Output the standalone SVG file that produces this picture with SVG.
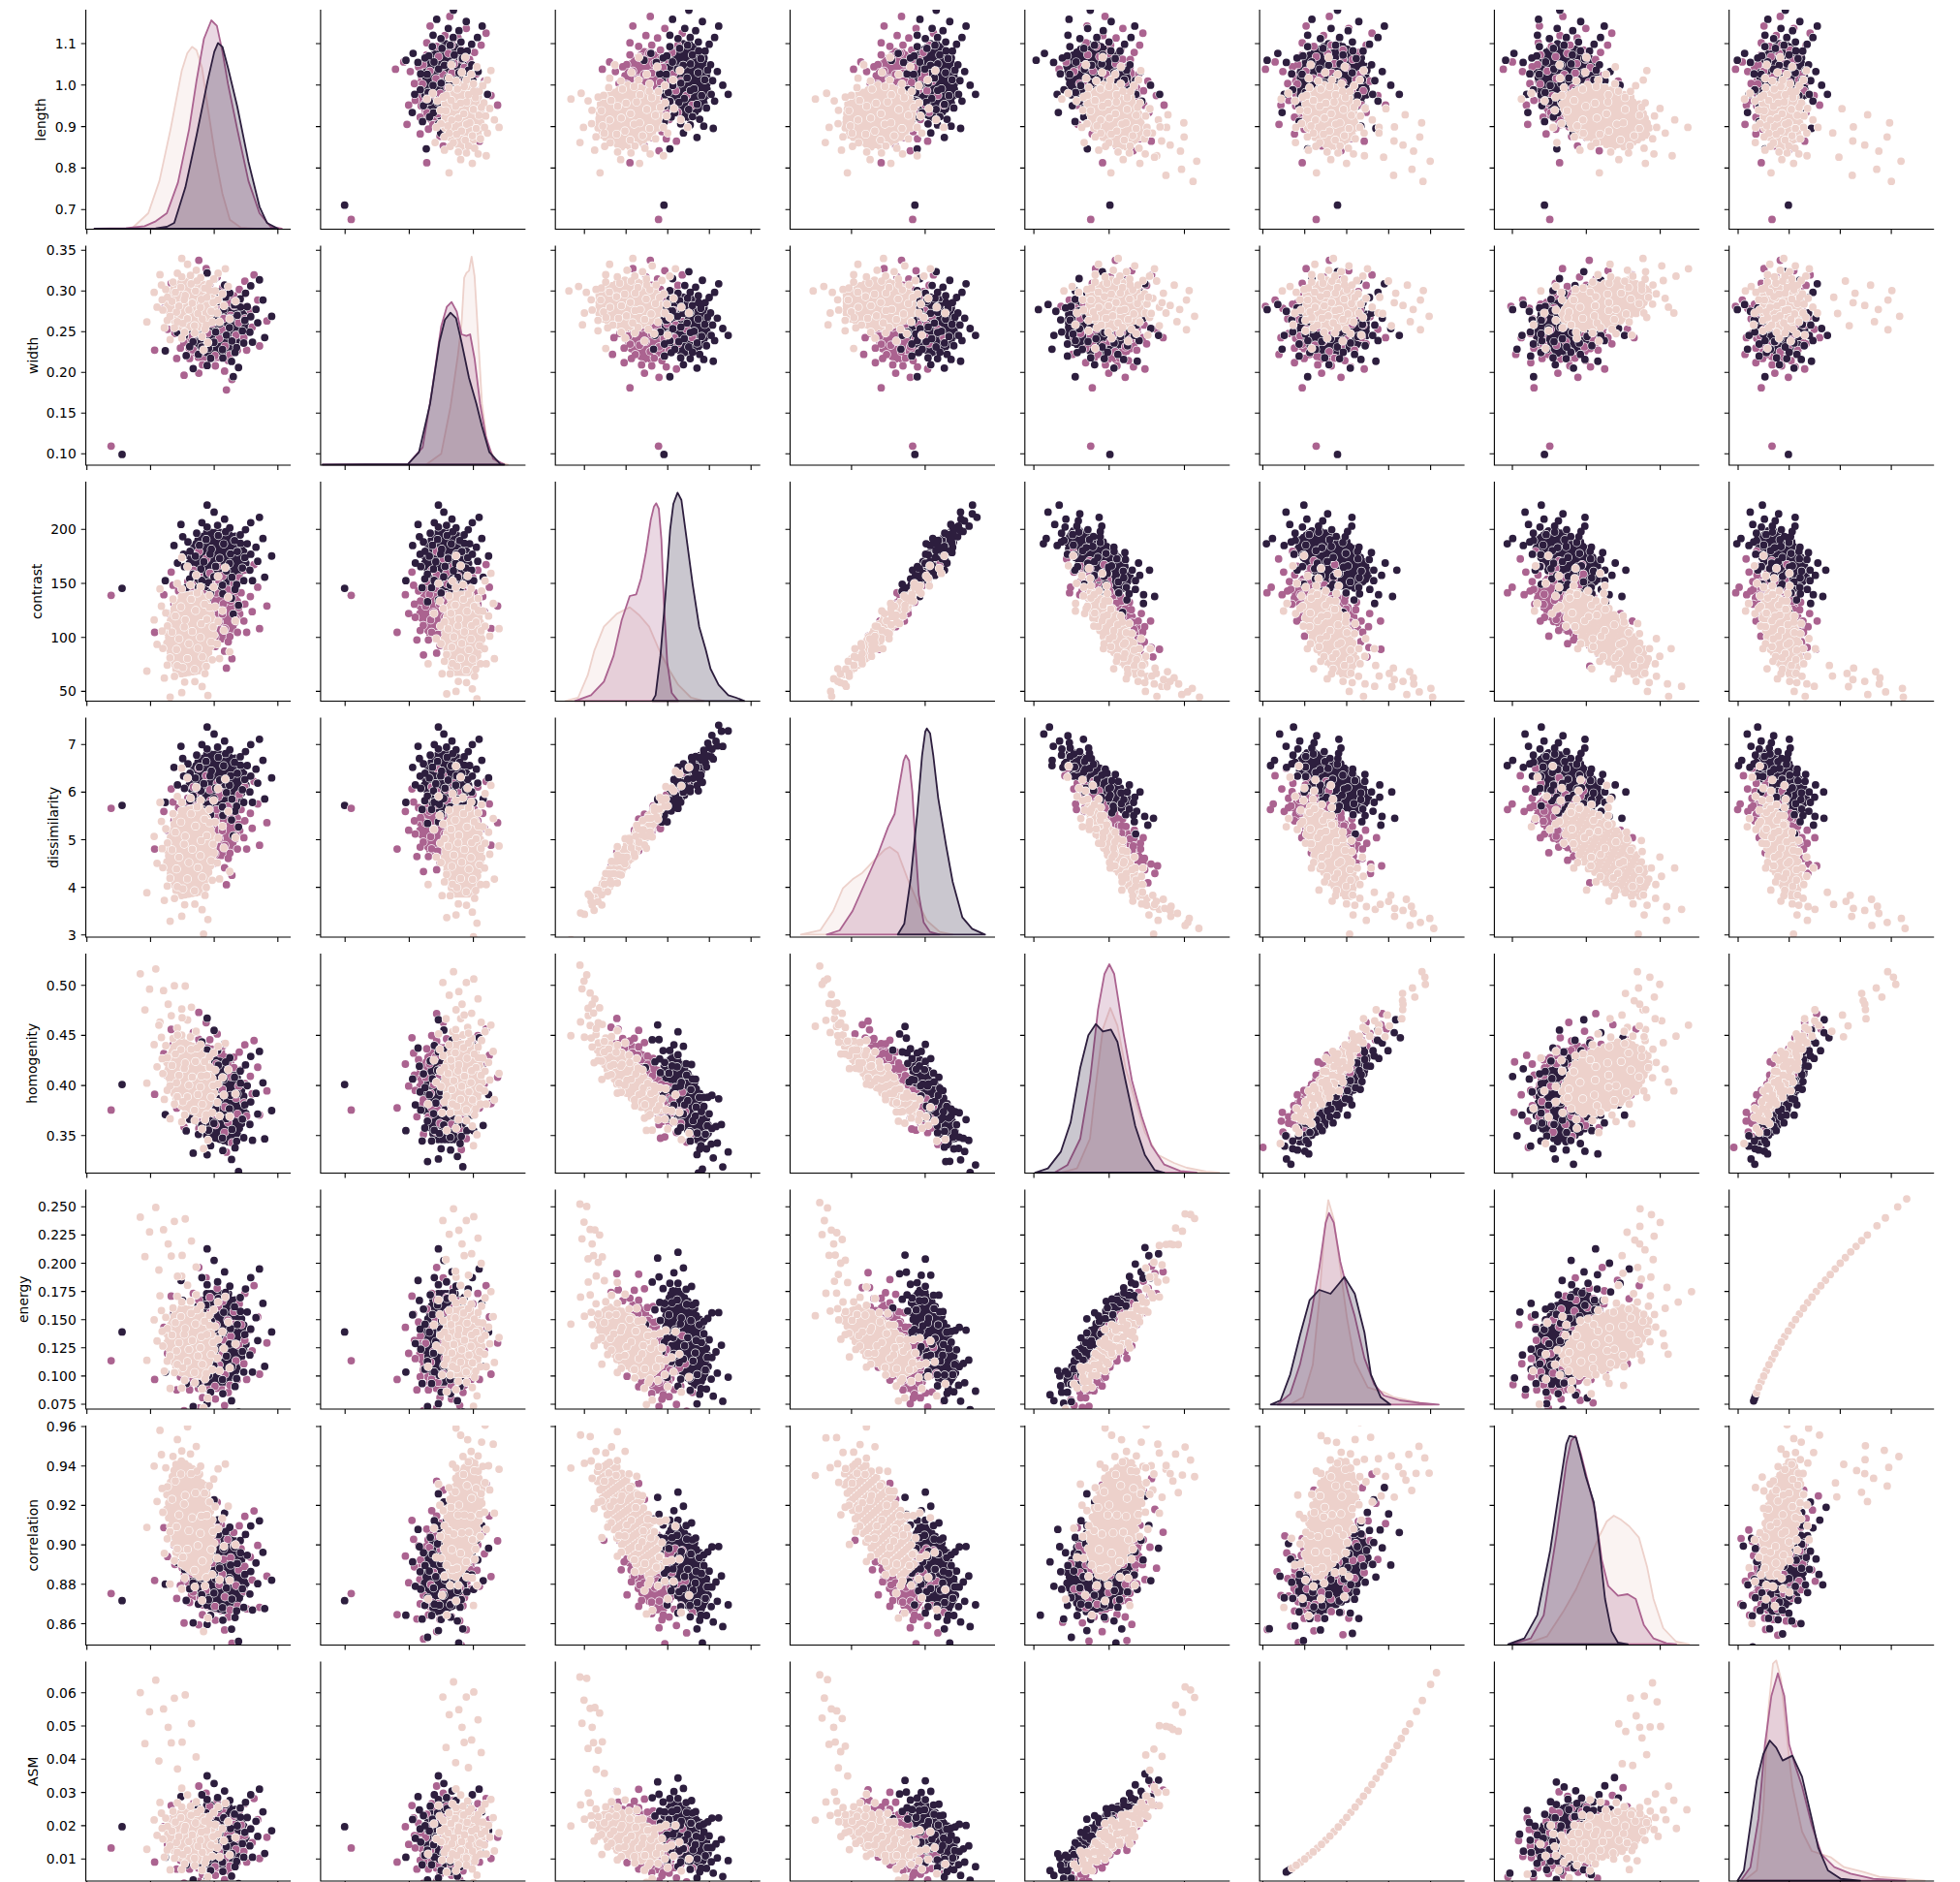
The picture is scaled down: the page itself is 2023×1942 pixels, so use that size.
<svg xmlns="http://www.w3.org/2000/svg" width="2023" height="1942" viewBox="0 0 2023 1942">
<style>
.w{stroke:#fff;stroke-width:9.2;stroke-linecap:round}
.k{stroke-width:7.8;stroke-linecap:round}
.D{stroke:#2d1e3e}.M{stroke:#ab6390}.L{stroke:#edd1cb}
.ax{fill:none;stroke:#000;stroke-width:1.1}
.kd{stroke-width:1.8;vector-effect:non-scaling-stroke;stroke-linejoin:round}
text{font-family:"DejaVu Sans","Liberation Sans",sans-serif;font-size:13.9px;fill:#000}
</style>
<defs>
<clipPath id="cp"><rect width="211.5" height="226.5"/></clipPath>
<path id="pG" fill="none" vector-effect="non-scaling-stroke" d="M-15 0h0m2.5 0h0m2.5 0h0m2.5 0h0m2.5 0h0m2.5 0h0m2.5 0h0m2.5 0h0m2.5 0h0m2.5 0h0m2.5 0h0m2.5 0h0m2.5 0h0M-16.25 2.2h0m2.5 0h0m2.5 0h0m2.5 0h0m2.5 0h0m2.5 0h0m2.5 0h0m2.5 0h0m2.5 0h0m2.5 0h0m2.5 0h0m2.5 0h0m2.5 0h0m2.5 0h0M-16.25-2.2h0m2.5 0h0m2.5 0h0m2.5 0h0m2.5 0h0m2.5 0h0m2.5 0h0m2.5 0h0m2.5 0h0m2.5 0h0m2.5 0h0m2.5 0h0m2.5 0h0m2.5 0h0M-15 4.4h0m2.5 0h0m2.5 0h0m2.5 0h0m2.5 0h0m2.5 0h0m2.5 0h0m2.5 0h0m2.5 0h0m2.5 0h0m2.5 0h0m2.5 0h0m2.5 0h0M-15-4.4h0m2.5 0h0m2.5 0h0m2.5 0h0m2.5 0h0m2.5 0h0m2.5 0h0m2.5 0h0m2.5 0h0m2.5 0h0m2.5 0h0m2.5 0h0m2.5 0h0M-13.75 6.6h0m2.5 0h0m2.5 0h0m2.5 0h0m2.5 0h0m2.5 0h0m2.5 0h0m2.5 0h0m2.5 0h0m2.5 0h0m2.5 0h0m2.5 0h0M-13.75-6.6h0m2.5 0h0m2.5 0h0m2.5 0h0m2.5 0h0m2.5 0h0m2.5 0h0m2.5 0h0m2.5 0h0m2.5 0h0m2.5 0h0m2.5 0h0M-12.5 8.8h0m2.5 0h0m2.5 0h0m2.5 0h0m2.5 0h0m2.5 0h0m2.5 0h0m2.5 0h0m2.5 0h0m2.5 0h0m2.5 0h0M-12.5-8.8h0m2.5 0h0m2.5 0h0m2.5 0h0m2.5 0h0m2.5 0h0m2.5 0h0m2.5 0h0m2.5 0h0m2.5 0h0m2.5 0h0M-11.25 11h0m2.5 0h0m2.5 0h0m2.5 0h0m2.5 0h0m2.5 0h0m2.5 0h0m2.5 0h0m2.5 0h0m2.5 0h0M-11.25-11h0m2.5 0h0m2.5 0h0m2.5 0h0m2.5 0h0m2.5 0h0m2.5 0h0m2.5 0h0m2.5 0h0m2.5 0h0M-10 13.2h0m2.5 0h0m2.5 0h0m2.5 0h0m2.5 0h0m2.5 0h0m2.5 0h0m2.5 0h0m2.5 0h0M-10-13.2h0m2.5 0h0m2.5 0h0m2.5 0h0m2.5 0h0m2.5 0h0m2.5 0h0m2.5 0h0m2.5 0h0M-6.25 15.4h0m2.5 0h0m2.5 0h0m2.5 0h0m2.5 0h0m2.5 0h0M-6.25-15.4h0m2.5 0h0m2.5 0h0m2.5 0h0m2.5 0h0m2.5 0h0"/>
<path id="pR" fill="none" vector-effect="non-scaling-stroke" d="M1.2 0.7h0M-4.3 3.1h0M6.8-2.2h0M-9.6-5.4h0M3.5 8.9h0M-2.1-9.8h0M11.3 4.6h0M-12.7 1.9h0M8.2-10.1h0M-6.6 11.4h0M0.4 13.7h0M14.2-4.8h0M-14.1-8.3h0M5.1-6.4h0M-7.9-1.3h0M9.7 10.8h0M-10.4 8.1h0M2.8-14.6h0M-3.6 5.9h0M13.1 9.2h0M-1.1-3.9h0M7.4 3.2h0M-5.2-13.1h0M15.6 1.1h0M-15.8 4.7h0M4.6 15.8h0M-9.1-11.9h0M10.9-14.2h0M19 3h0M17 9h0M13 14h0M7 18h0M0 19.5h0M-6 18.5h0M-12 15h0M-17 10h0M-19.5 3h0M-19-4h0M-16-11h0M-11-16h0M-4-19h0M3-19.5h0M10-17h0M15-12h0M18.5-6h0M22 7h0M16 17h0M4 23h0M-9 21h0M-20 13h0M-23-2h0M-18-16h0M-6-23h0M8-22h0M20-12h0M23-1h0M26 12h0M-2 27h0M-25 8h0M-14-24h0M12-26h0M27-10h0M19 21h0M-21 20h0M31 2h0M-6 31h0M-30-12h0M9-31h0M24 24h0"/>
<path id="pT" fill="none" vector-effect="non-scaling-stroke" d="M-12 5h0M-6-14h0M0 0h0M4 12h0M9-5h0M15 3h0M-3 7h0M6-16h0M-15-8h0M11 14h0M-8 18h0M18-10h0M2-6h0M-18 12h0"/>
<path id="dot" fill="none" vector-effect="non-scaling-stroke" d="M0 0h0"/>
<path id="c57d" fill="none" vector-effect="non-scaling-stroke" d="M27.5 25.3h0M29.3 26.2h0M31.4 27.2h0"/>
<path id="c57a" fill="none" vector-effect="non-scaling-stroke" d="M33.6 28.3h0M42.3 33.1h0M50.9 38.4h0M59.6 44.2h0M68.3 50.5h0M76.9 57.3h0M85.6 64.7h0M94.2 72.6h0M102.9 81h0M111.6 90h0M120.2 99.5h0M128.9 109.5h0M137.5 120h0M146.2 131.1h0M154.9 142.7h0M168 161.3h0M182.6 183.3h0"/>
<path id="c57b" fill="none" vector-effect="non-scaling-stroke" d="M37.9 30.6h0M46.6 35.7h0M55.3 41.2h0M63.9 47.2h0M72.6 53.8h0M81.2 61h0M89.9 68.6h0M98.6 76.8h0M107.2 85.5h0M115.9 94.7h0M124.5 104.4h0M133.2 114.7h0M141.9 125.5h0M150.5 136.8h0M162 152.6h0M176.5 174h0"/>
<g id="G"><use href="#pG" class="w"/><use href="#pG" class="k"/></g>
<g id="R"><use href="#pR" class="w"/><use href="#pR" class="k"/></g>
<g id="tl"><use href="#pT" class="w"/><use href="#pT" class="k"/></g>
<g id="o"><use href="#dot" class="w"/><use href="#dot" class="k"/></g>
<path id="fr" class="ax" d="M0-226.5V0H211.5"/>
<path id="xt0" class="ax" d="M89.7 0v4.9M155.4 0v4.9M221.1 0v4.9M286.8 0v4.9"/>
<path id="xt1" class="ax" d="M356.2 0v4.9M422.4 0v4.9M488.6 0v4.9"/>
<path id="xt2" class="ax" d="M603.2 0v4.9M646.2 0v4.9M689.2 0v4.9M732.2 0v4.9M775.2 0v4.9"/>
<path id="xt3" class="ax" d="M878.9 0v4.9M954.9 0v4.9"/>
<path id="xt4" class="ax" d="M1067.1 0v4.9M1144.8 0v4.9M1222.5 0v4.9"/>
<path id="xt5" class="ax" d="M1303.4 0v4.9M1346.7 0v4.9M1390 0v4.9M1433.3 0v4.9M1476.6 0v4.9"/>
<path id="xt6" class="ax" d="M1561 0v4.9M1637.3 0v4.9M1713.6 0v4.9"/>
<path id="xt7" class="ax" d="M1794 0v4.9M1846.7 0v4.9M1899.4 0v4.9M1952.1 0v4.9"/>
<path id="yt0" class="ax" d="M-4.9 45h4.9M-4.9 87.8h4.9M-4.9 130.6h4.9M-4.9 173.4h4.9M-4.9 216.2h4.9"/>
<path id="yt1" class="ax" d="M-4.9 258.3h4.9M-4.9 300.3h4.9M-4.9 342.3h4.9M-4.9 384.3h4.9M-4.9 426.3h4.9M-4.9 468.3h4.9"/>
<path id="yt2" class="ax" d="M-4.9 546.3h4.9M-4.9 602h4.9M-4.9 657.7h4.9M-4.9 713.4h4.9"/>
<path id="yt3" class="ax" d="M-4.9 768.3h4.9M-4.9 817.4h4.9M-4.9 866.5h4.9M-4.9 915.6h4.9M-4.9 964.7h4.9"/>
<path id="yt4" class="ax" d="M-4.9 1016.7h4.9M-4.9 1068.4h4.9M-4.9 1120.1h4.9M-4.9 1171.8h4.9"/>
<path id="yt5" class="ax" d="M-4.9 1245.3h4.9M-4.9 1274.4h4.9M-4.9 1303.5h4.9M-4.9 1332.6h4.9M-4.9 1361.7h4.9M-4.9 1390.8h4.9M-4.9 1419.9h4.9M-4.9 1449h4.9"/>
<path id="yt6" class="ax" d="M-4.9 1472h4.9M-4.9 1512.7h4.9M-4.9 1553.4h4.9M-4.9 1594.1h4.9M-4.9 1634.8h4.9M-4.9 1675.5h4.9"/>
<path id="yt7" class="ax" d="M-4.9 1746.7h4.9M-4.9 1781h4.9M-4.9 1815.3h4.9M-4.9 1849.6h4.9M-4.9 1883.9h4.9M-4.9 1918.2h4.9"/>

<g id="p01"><use href="#G" class="M" transform="matrix(1.9,0,0,1.7,128,130)"/><use href="#G" class="D" transform="matrix(1.8,.14,0,1.393,136,130)"/><use href="#R" class="M" transform="matrix(1.9,0,0,1.7,128,130)"/><use href="#R" class="D" transform="matrix(1.8,.14,0,1.393,136,130)"/><use href="#G" class="L" transform="matrix(1.5,0,0,1.2,108,147)"/><use href="#R" class="L" transform="matrix(1.5,0,0,1.2,108,147)"/><use href="#o" class="D" x="37.4" y="24.8"/><use href="#o" class="M" x="26.1" y="31.6"/></g>
<g id="p02"><use href="#G" class="M" transform="matrix(1.9,0,0,1.5,128,95)"/><use href="#G" class="D" transform="matrix(1.8,0,0,1.4,136,135)"/><use href="#R" class="M" transform="matrix(1.9,0,0,1.5,128,95)"/><use href="#R" class="D" transform="matrix(1.8,0,0,1.4,136,135)"/><use href="#G" class="L" transform="matrix(1.5,.2,0,1.99,108,76)"/><use href="#R" class="L" transform="matrix(1.5,.2,0,1.99,108,76)"/><use href="#o" class="D" x="37.4" y="112.1"/><use href="#o" class="M" x="26.1" y="106.5"/></g>
<g id="p03"><use href="#G" class="M" transform="matrix(1.9,0,0,1.5,128,112)"/><use href="#G" class="D" transform="matrix(1.8,0,0,1.4,136,148)"/><use href="#R" class="M" transform="matrix(1.9,0,0,1.5,128,112)"/><use href="#R" class="D" transform="matrix(1.8,0,0,1.4,136,148)"/><use href="#G" class="L" transform="matrix(1.5,.22,0,2.19,108,92)"/><use href="#R" class="L" transform="matrix(1.5,.22,0,2.19,108,92)"/><use href="#o" class="D" x="37.4" y="128.8"/><use href="#o" class="M" x="26.1" y="126.5"/></g>
<g id="p04"><use href="#G" class="M" transform="matrix(1.9,-.34,0,1.666,128,90)"/><use href="#G" class="D" transform="matrix(1.8,-.4,0,1.96,136,76)"/><use href="#R" class="M" transform="matrix(1.9,-.34,0,1.666,128,90)"/><use href="#R" class="D" transform="matrix(1.8,-.4,0,1.96,136,76)"/><use href="#G" class="L" transform="matrix(1.5,-.51,0,1.622,108,93)"/><use href="#R" class="L" transform="matrix(1.5,-.51,0,1.622,108,93)"/><use href="#tl" class="L" transform="matrix(1.6,-.42,0,1.336,85,150)"/><use href="#o" class="D" x="37.4" y="87.8"/><use href="#o" class="M" x="26.1" y="68"/></g>
<g id="p05"><use href="#G" class="M" transform="matrix(1.9,0,0,2,128,68)"/><use href="#G" class="D" transform="matrix(1.8,0,0,2.2,136,76)"/><use href="#R" class="M" transform="matrix(1.9,0,0,2,128,68)"/><use href="#R" class="D" transform="matrix(1.8,0,0,2.2,136,76)"/><use href="#G" class="L" transform="matrix(1.5,-.16,0,1.592,108,73)"/><use href="#R" class="L" transform="matrix(1.5,-.16,0,1.592,108,73)"/><use href="#tl" class="L" transform="matrix(1.6,-.15,0,1.493,85,148)"/><use href="#o" class="D" x="37.4" y="80.4"/><use href="#o" class="M" x="26.1" y="58.4"/></g>
<g id="p06"><use href="#G" class="M" transform="matrix(1.9,-.44,0,2.156,128,80)"/><use href="#G" class="D" transform="matrix(1.8,-.4,0,1.96,136,76)"/><use href="#R" class="M" transform="matrix(1.9,-.44,0,2.156,128,80)"/><use href="#R" class="D" transform="matrix(1.8,-.4,0,1.96,136,76)"/><use href="#G" class="L" transform="matrix(1.5,-.81,0,2.576,108,115)"/><use href="#R" class="L" transform="matrix(1.5,-.81,0,2.576,108,115)"/><use href="#o" class="D" x="37.4" y="51.7"/><use href="#o" class="M" x="26.1" y="57.2"/></g>
<g id="p07"><use href="#G" class="M" transform="matrix(1.9,0,0,1.4,128,50)"/><use href="#G" class="D" transform="matrix(1.8,0,0,1.5,136,55)"/><use href="#R" class="M" transform="matrix(1.9,0,0,1.4,128,50)"/><use href="#R" class="D" transform="matrix(1.8,0,0,1.5,136,55)"/><use href="#G" class="L" transform="matrix(1.5,-.12,0,1.194,108,54)"/><use href="#R" class="L" transform="matrix(1.5,-.12,0,1.194,108,54)"/><use href="#tl" class="L" transform="matrix(1.6,-.2,0,1.99,85,140)"/><use href="#o" class="D" x="37.4" y="61.2"/><use href="#o" class="M" x="26.1" y="44.3"/></g>
<g id="p12"><use href="#G" class="M" transform="matrix(1.7,0,0,1.5,130,95)"/><use href="#G" class="D" transform="matrix(1.4,0,0,1.4,130,135)"/><use href="#R" class="M" transform="matrix(1.7,0,0,1.5,130,95)"/><use href="#R" class="D" transform="matrix(1.4,0,0,1.4,130,135)"/><use href="#G" class="L" transform="matrix(1.2,0,0,2,147,76)"/><use href="#R" class="L" transform="matrix(1.2,0,0,2,147,76)"/><use href="#o" class="D" x="24.8" y="112.1"/><use href="#o" class="M" x="31.6" y="106.5"/></g>
<g id="p13"><use href="#G" class="M" transform="matrix(1.7,0,0,1.5,130,112)"/><use href="#G" class="D" transform="matrix(1.4,0,0,1.4,130,148)"/><use href="#R" class="M" transform="matrix(1.7,0,0,1.5,130,112)"/><use href="#R" class="D" transform="matrix(1.4,0,0,1.4,130,148)"/><use href="#G" class="L" transform="matrix(1.2,0,0,2.2,147,92)"/><use href="#R" class="L" transform="matrix(1.2,0,0,2.2,147,92)"/><use href="#o" class="D" x="24.8" y="128.8"/><use href="#o" class="M" x="31.6" y="126.5"/></g>
<g id="p14"><use href="#G" class="M" transform="matrix(1.7,0,0,1.7,130,90)"/><use href="#G" class="D" transform="matrix(1.4,0,0,2,130,76)"/><use href="#R" class="M" transform="matrix(1.7,0,0,1.7,130,90)"/><use href="#R" class="D" transform="matrix(1.4,0,0,2,130,76)"/><use href="#G" class="L" transform="matrix(1.2,0,0,1.7,147,93)"/><use href="#R" class="L" transform="matrix(1.2,0,0,1.7,147,93)"/><use href="#tl" class="L" transform="matrix(1.1,0,0,1.4,146,150)"/><use href="#o" class="D" x="24.8" y="87.8"/><use href="#o" class="M" x="31.6" y="68"/></g>
<g id="p15"><use href="#G" class="M" transform="matrix(1.7,0,0,2,130,68)"/><use href="#G" class="D" transform="matrix(1.4,0,0,2.2,130,76)"/><use href="#R" class="M" transform="matrix(1.7,0,0,2,130,68)"/><use href="#R" class="D" transform="matrix(1.4,0,0,2.2,130,76)"/><use href="#G" class="L" transform="matrix(1.2,0,0,1.6,147,73)"/><use href="#R" class="L" transform="matrix(1.2,0,0,1.6,147,73)"/><use href="#tl" class="L" transform="matrix(1.1,0,0,1.5,146,148)"/><use href="#o" class="D" x="24.8" y="80.4"/><use href="#o" class="M" x="31.6" y="58.4"/></g>
<g id="p16"><use href="#G" class="M" transform="matrix(1.7,.44,0,2.156,130,80)"/><use href="#G" class="D" transform="matrix(1.4,.4,0,1.96,130,76)"/><use href="#R" class="M" transform="matrix(1.7,.44,0,2.156,130,80)"/><use href="#R" class="D" transform="matrix(1.4,.4,0,1.96,130,76)"/><use href="#G" class="L" transform="matrix(1.2,1.08,0,2.476,147,115)"/><use href="#R" class="L" transform="matrix(1.2,1.08,0,2.476,147,115)"/><use href="#o" class="D" x="24.8" y="51.7"/><use href="#o" class="M" x="31.6" y="57.2"/></g>
<g id="p17"><use href="#G" class="M" transform="matrix(1.7,0,0,1.4,130,50)"/><use href="#G" class="D" transform="matrix(1.4,0,0,1.5,130,55)"/><use href="#R" class="M" transform="matrix(1.7,0,0,1.4,130,50)"/><use href="#R" class="D" transform="matrix(1.4,0,0,1.5,130,55)"/><use href="#G" class="L" transform="matrix(1.2,0,0,1.2,147,54)"/><use href="#R" class="L" transform="matrix(1.2,0,0,1.2,147,54)"/><use href="#tl" class="L" transform="matrix(1.1,0,0,2,146,140)"/><use href="#o" class="D" x="24.8" y="61.2"/><use href="#o" class="M" x="31.6" y="44.3"/></g>
<g id="p23"><use href="#G" class="M" transform="matrix(1.5,1.425,0,.468,95,112)"/><use href="#G" class="D" transform="matrix(1.4,1.26,0,.61,135,148)"/><use href="#R" class="M" transform="matrix(1.5,1.425,0,.468,95,112)"/><use href="#R" class="D" transform="matrix(1.4,1.26,0,.61,135,148)"/><use href="#G" class="L" transform="matrix(2,2.134,0,.535,76,92)"/><use href="#R" class="L" transform="matrix(2,2.134,0,.535,76,92)"/></g>
<g id="p24"><use href="#G" class="M" transform="matrix(1.5,-1.36,0,1.02,95,90)"/><use href="#G" class="D" transform="matrix(1.4,-1.4,0,1.428,135,76)"/><use href="#R" class="M" transform="matrix(1.5,-1.36,0,1.02,95,90)"/><use href="#R" class="D" transform="matrix(1.4,-1.4,0,1.428,135,76)"/><use href="#G" class="L" transform="matrix(2,-1.445,0,.896,76,93)"/><use href="#R" class="L" transform="matrix(2,-1.445,0,.896,76,93)"/><use href="#tl" class="L" transform="matrix(.7,-1.19,0,.738,38,150)"/></g>
<g id="p25"><use href="#G" class="M" transform="matrix(1.5,-1.2,0,1.6,95,68)"/><use href="#G" class="D" transform="matrix(1.4,-1.1,0,1.905,135,76)"/><use href="#R" class="M" transform="matrix(1.5,-1.2,0,1.6,95,68)"/><use href="#R" class="D" transform="matrix(1.4,-1.1,0,1.905,135,76)"/><use href="#G" class="L" transform="matrix(2,-.96,0,1.28,76,73)"/><use href="#R" class="L" transform="matrix(2,-.96,0,1.28,76,73)"/><use href="#tl" class="L" transform="matrix(.7,-.9,0,1.2,38,148)"/></g>
<g id="p26"><use href="#G" class="M" transform="matrix(1.5,-1.32,0,1.76,95,80)"/><use href="#G" class="D" transform="matrix(1.4,-1,0,1.732,135,76)"/><use href="#R" class="M" transform="matrix(1.5,-1.32,0,1.76,95,80)"/><use href="#R" class="D" transform="matrix(1.4,-1,0,1.732,135,76)"/><use href="#G" class="L" transform="matrix(2,-2.025,0,1.785,76,115)"/><use href="#R" class="L" transform="matrix(2,-2.025,0,1.785,76,115)"/></g>
<g id="p27"><use href="#G" class="M" transform="matrix(1.5,-.77,0,1.169,95,50)"/><use href="#G" class="D" transform="matrix(1.4,-.75,0,1.299,135,55)"/><use href="#R" class="M" transform="matrix(1.5,-.77,0,1.169,95,50)"/><use href="#R" class="D" transform="matrix(1.4,-.75,0,1.299,135,55)"/><use href="#G" class="L" transform="matrix(2,-.66,0,1.002,76,54)"/><use href="#R" class="L" transform="matrix(2,-.66,0,1.002,76,54)"/><use href="#tl" class="L" transform="matrix(.7,-1.1,0,1.67,38,140)"/></g>
<g id="p34"><use href="#G" class="M" transform="matrix(1.5,-1.53,0,.741,112,90)"/><use href="#G" class="D" transform="matrix(1.4,-1.7,0,1.054,148,76)"/><use href="#R" class="M" transform="matrix(1.5,-1.53,0,.741,112,90)"/><use href="#R" class="D" transform="matrix(1.4,-1.7,0,1.054,148,76)"/><use href="#G" class="L" transform="matrix(2.2,-1.581,0,.626,92,93)"/><use href="#R" class="L" transform="matrix(2.2,-1.581,0,.626,92,93)"/><use href="#tl" class="L" transform="matrix(.8,-1.302,0,.515,45,150)"/></g>
<g id="p35"><use href="#G" class="M" transform="matrix(1.5,-1.4,0,1.428,112,68)"/><use href="#G" class="D" transform="matrix(1.4,-1.43,0,1.672,148,76)"/><use href="#R" class="M" transform="matrix(1.5,-1.4,0,1.428,112,68)"/><use href="#R" class="D" transform="matrix(1.4,-1.43,0,1.672,148,76)"/><use href="#G" class="L" transform="matrix(2.2,-1.12,0,1.142,92,73)"/><use href="#R" class="L" transform="matrix(2.2,-1.12,0,1.142,92,73)"/><use href="#tl" class="L" transform="matrix(.8,-1.05,0,1.071,45,148)"/></g>
<g id="p36"><use href="#G" class="M" transform="matrix(1.5,-1.32,0,1.76,112,80)"/><use href="#G" class="D" transform="matrix(1.4,-1,0,1.732,148,76)"/><use href="#R" class="M" transform="matrix(1.5,-1.32,0,1.76,112,80)"/><use href="#R" class="D" transform="matrix(1.4,-1,0,1.732,148,76)"/><use href="#G" class="L" transform="matrix(2.2,-1.89,0,1.928,92,115)"/><use href="#R" class="L" transform="matrix(2.2,-1.89,0,1.928,92,115)"/></g>
<g id="p37"><use href="#G" class="M" transform="matrix(1.5,-.91,0,1.064,112,50)"/><use href="#G" class="D" transform="matrix(1.4,-.9,0,1.2,148,55)"/><use href="#R" class="M" transform="matrix(1.5,-.91,0,1.064,112,50)"/><use href="#R" class="D" transform="matrix(1.4,-.9,0,1.2,148,55)"/><use href="#G" class="L" transform="matrix(2.2,-.78,0,.912,92,54)"/><use href="#R" class="L" transform="matrix(2.2,-.78,0,.912,92,54)"/><use href="#tl" class="L" transform="matrix(.8,-1.3,0,1.52,45,140)"/></g>
<g id="p45"><use href="#G" class="M" transform="matrix(1.7,1.84,0,.784,90,68)"/><use href="#G" class="D" transform="matrix(2,2.024,0,.862,76,76)"/><use href="#R" class="M" transform="matrix(1.7,1.84,0,.784,90,68)"/><use href="#R" class="D" transform="matrix(2,2.024,0,.862,76,76)"/><use href="#G" class="L" transform="matrix(1.7,1.488,0,.589,93,73)"/><use href="#R" class="L" transform="matrix(1.7,1.488,0,.589,93,73)"/><use href="#tl" class="L" transform="matrix(1.4,1.395,0,.552,150,148)"/></g>
<g id="p46"><use href="#G" class="M" transform="matrix(1.7,.66,0,2.099,90,80)"/><use href="#G" class="D" transform="matrix(2,.4,0,1.96,76,76)"/><use href="#R" class="M" transform="matrix(1.7,.66,0,2.099,90,80)"/><use href="#R" class="D" transform="matrix(2,.4,0,1.96,76,76)"/><use href="#G" class="L" transform="matrix(1.7,1.08,0,2.476,93,115)"/><use href="#R" class="L" transform="matrix(1.7,1.08,0,2.476,93,115)"/><use href="#tl" class="L" transform="matrix(1.4,.48,0,1.1,150,150)"/></g>
<g id="p47"><use href="#G" class="M" transform="matrix(1.7,1.26,0,.61,90,50)"/><use href="#G" class="D" transform="matrix(2,1.35,0,.654,76,55)"/><use href="#R" class="M" transform="matrix(1.7,1.26,0,.61,90,50)"/><use href="#R" class="D" transform="matrix(2,1.35,0,.654,76,55)"/><use href="#G" class="L" transform="matrix(1.7,1.08,0,.523,93,54)"/><use href="#R" class="L" transform="matrix(1.7,1.08,0,.523,93,54)"/><use href="#tl" class="L" transform="matrix(1.4,1.8,0,.872,150,140)"/></g>
<g id="p56"><use href="#G" class="M" transform="matrix(2,.88,0,2.017,68,80)"/><use href="#G" class="D" transform="matrix(2.2,.8,0,1.834,76,76)"/><use href="#R" class="M" transform="matrix(2,.88,0,2.017,68,80)"/><use href="#R" class="D" transform="matrix(2.2,.8,0,1.834,76,76)"/><use href="#G" class="L" transform="matrix(1.6,1.35,0,2.338,73,115)"/><use href="#R" class="L" transform="matrix(1.6,1.35,0,2.338,73,115)"/><use href="#tl" class="L" transform="matrix(1.5,.6,0,1.04,148,150)"/></g>
<g id="p57"><use href="#c57d" class="w"/><use href="#c57d" class="k D"/><use href="#c57a" class="w"/><use href="#c57a" class="k L"/><use href="#c57b" class="w"/><use href="#c57b" class="k L"/></g>
<g id="p67"><use href="#G" class="M" transform="matrix(2.2,.42,0,1.336,80,50)"/><use href="#G" class="D" transform="matrix(2,.45,0,1.431,76,55)"/><use href="#R" class="M" transform="matrix(2.2,.42,0,1.336,80,50)"/><use href="#R" class="D" transform="matrix(2,.45,0,1.431,76,55)"/><use href="#G" class="L" transform="matrix(2.7,.6,0,1.039,115,54)"/><use href="#R" class="L" transform="matrix(2.7,.6,0,1.039,115,54)"/><use href="#tl" class="L" transform="matrix(1.2,1,0,1.732,150,140)"/></g>
</defs>
<rect width="2023" height="1942" fill="#fff"/>

<g id="row0">
<g id="r0c0"><g transform="matrix(.38268,0,0,.33333,0,0)">
<path class="kd" fill="#edd1cb" fill-opacity=".25" stroke="#edd1cb" d="M355 708L400 660L430 560L460 400L490 220L505 165L518 145L530 155L545 210L560 330L580 480L600 600L620 680L650 705L690 708Z"/>
<path class="kd" fill="#ab6390" fill-opacity=".25" stroke="#ab6390" d="M255 708L340 706L390 700L420 685L450 660L480 565L510 400L530 250L550 120L570 63L585 80L600 160L615 260L640 400L670 560L700 660L730 702L760 708Z"/>
<path class="kd" fill="#2d1e3e" fill-opacity=".25" stroke="#2d1e3e" d="M255 708L420 707L450 702L470 690L500 580L530 420L560 250L578 160L588 133L600 145L615 210L640 330L670 500L700 640L720 690L750 708Z"/>
</g><use href="#fr" x="88.6" y="236.5"/><use href="#xt0" y="236.5"/><use href="#yt0" x="88.6"/></g>
<g id="r0c1"><g transform="translate(330.9,10)" clip-path="url(#cp)"><use href="#p01" transform="matrix(0,-1.3029,1,0,0,250.43)"/></g><use href="#fr" x="330.9" y="236.5"/><use href="#xt1" y="236.5"/><use href="#yt0" x="330.9"/></g>
<g id="r0c2"><g transform="translate(573.2,10)" clip-path="url(#cp)"><use href="#p02" transform="matrix(0,-1.3029,1,0,0,250.43)"/></g><use href="#fr" x="573.2" y="236.5"/><use href="#xt2" y="236.5"/><use href="#yt0" x="573.2"/></g>
<g id="r0c3"><g transform="translate(815.5,10)" clip-path="url(#cp)"><use href="#p03" transform="matrix(0,-1.3029,1,0,0,250.43)"/></g><use href="#fr" x="815.5" y="236.5"/><use href="#xt3" y="236.5"/><use href="#yt0" x="815.5"/></g>
<g id="r0c4"><g transform="translate(1057.8,10)" clip-path="url(#cp)"><use href="#p04" transform="matrix(0,-1.3029,1,0,0,250.43)"/></g><use href="#fr" x="1057.8" y="236.5"/><use href="#xt4" y="236.5"/><use href="#yt0" x="1057.8"/></g>
<g id="r0c5"><g transform="translate(1300.1,10)" clip-path="url(#cp)"><use href="#p05" transform="matrix(0,-1.3029,1,0,0,250.43)"/></g><use href="#fr" x="1300.1" y="236.5"/><use href="#xt5" y="236.5"/><use href="#yt0" x="1300.1"/></g>
<g id="r0c6"><g transform="translate(1542.4,10)" clip-path="url(#cp)"><use href="#p06" transform="matrix(0,-1.3029,1,0,0,250.43)"/></g><use href="#fr" x="1542.4" y="236.5"/><use href="#xt6" y="236.5"/><use href="#yt0" x="1542.4"/></g>
<g id="r0c7"><g transform="translate(1784.7,10)" clip-path="url(#cp)"><use href="#p07" transform="matrix(0,-1.3029,1,0,0,250.43)"/></g><use href="#fr" x="1784.7" y="236.5"/><use href="#xt7" y="236.5"/><use href="#yt0" x="1784.7"/></g>
</g>

<g id="row1">
<g id="r1c0"><g transform="translate(88.6,253.5)" clip-path="url(#cp)"><use href="#p01" transform="matrix(1,0,0,-1.2689,0,246.9)"/></g><use href="#fr" x="88.6" y="480"/><use href="#xt0" y="480"/><use href="#yt1" x="88.6"/></g>
<g id="r1c1"><g transform="matrix(.38268,0,0,.33333,0,0)">
<path class="kd" fill="#edd1cb" fill-opacity=".25" stroke="#edd1cb" d="M1150 1438L1190 1405L1215 1260L1235 1100L1245 1000L1252 860L1258 845L1265 838L1272 795L1280 855L1290 1050L1300 1250L1315 1380L1340 1430L1370 1438Z"/>
<path class="kd" fill="#ab6390" fill-opacity=".25" stroke="#ab6390" d="M870 1438L1100 1437L1140 1385L1165 1210L1190 1010L1205 950L1218 935L1232 965L1245 1035L1258 1040L1268 1035L1280 1110L1295 1250L1310 1350L1330 1420L1360 1438Z"/>
<path class="kd" fill="#2d1e3e" fill-opacity=".25" stroke="#2d1e3e" d="M870 1438L1100 1437L1130 1400L1160 1250L1185 1060L1200 990L1215 968L1230 985L1245 1060L1265 1170L1285 1250L1300 1320L1320 1400L1350 1437L1360 1438Z"/>
</g><use href="#fr" x="330.9" y="480"/><use href="#xt1" y="480"/><use href="#yt1" x="330.9"/></g>
<g id="r1c2"><g transform="translate(573.2,253.5)" clip-path="url(#cp)"><use href="#p12" transform="matrix(0,-1.2689,1,0,0,246.9)"/></g><use href="#fr" x="573.2" y="480"/><use href="#xt2" y="480"/><use href="#yt1" x="573.2"/></g>
<g id="r1c3"><g transform="translate(815.5,253.5)" clip-path="url(#cp)"><use href="#p13" transform="matrix(0,-1.2689,1,0,0,246.9)"/></g><use href="#fr" x="815.5" y="480"/><use href="#xt3" y="480"/><use href="#yt1" x="815.5"/></g>
<g id="r1c4"><g transform="translate(1057.8,253.5)" clip-path="url(#cp)"><use href="#p14" transform="matrix(0,-1.2689,1,0,0,246.9)"/></g><use href="#fr" x="1057.8" y="480"/><use href="#xt4" y="480"/><use href="#yt1" x="1057.8"/></g>
<g id="r1c5"><g transform="translate(1300.1,253.5)" clip-path="url(#cp)"><use href="#p15" transform="matrix(0,-1.2689,1,0,0,246.9)"/></g><use href="#fr" x="1300.1" y="480"/><use href="#xt5" y="480"/><use href="#yt1" x="1300.1"/></g>
<g id="r1c6"><g transform="translate(1542.4,253.5)" clip-path="url(#cp)"><use href="#p16" transform="matrix(0,-1.2689,1,0,0,246.9)"/></g><use href="#fr" x="1542.4" y="480"/><use href="#xt6" y="480"/><use href="#yt1" x="1542.4"/></g>
<g id="r1c7"><g transform="translate(1784.7,253.5)" clip-path="url(#cp)"><use href="#p17" transform="matrix(0,-1.2689,1,0,0,246.9)"/></g><use href="#fr" x="1784.7" y="480"/><use href="#xt7" y="480"/><use href="#yt1" x="1784.7"/></g>
</g>

<g id="row2">
<g id="r2c0"><g transform="translate(88.6,497)" clip-path="url(#cp)"><use href="#p02" transform="matrix(1,0,0,-1.2953,0,255.26)"/></g><use href="#fr" x="88.6" y="723.5"/><use href="#xt0" y="723.5"/><use href="#yt2" x="88.6"/></g>
<g id="r2c1"><g transform="translate(330.9,497)" clip-path="url(#cp)"><use href="#p12" transform="matrix(1,0,0,-1.2953,0,255.26)"/></g><use href="#fr" x="330.9" y="723.5"/><use href="#xt1" y="723.5"/><use href="#yt2" x="330.9"/></g>
<g id="r2c2"><g transform="translate(560,490) scale(.33333)">
<path class="kd" fill="#edd1cb" fill-opacity=".25" stroke="#edd1cb" d="M70 700L110 690L140 620L160 545L190 470L230 430L270 410L300 435L330 470L360 540L390 600L420 650L460 690L500 700Z"/>
<path class="kd" fill="#ab6390" fill-opacity=".25" stroke="#ab6390" d="M100 700L150 682L190 640L220 560L245 450L270 375L290 370L305 320L320 240L335 140L345 98L352 88L360 105L368 200L376 400L386 580L400 675L420 700Z"/>
<path class="kd" fill="#2d1e3e" fill-opacity=".25" stroke="#2d1e3e" d="M340 700L350 682L365 560L380 380L395 170L405 90L418 55L430 78L445 190L465 340L485 470L505 540L520 600L545 650L575 682L600 690L625 700Z"/>
</g><use href="#fr" x="573.2" y="723.5"/><use href="#xt2" y="723.5"/><use href="#yt2" x="573.2"/></g>
<g id="r2c3"><g transform="translate(815.5,497)" clip-path="url(#cp)"><use href="#p23" transform="matrix(0,-1.2953,1,0,0,255.26)"/></g><use href="#fr" x="815.5" y="723.5"/><use href="#xt3" y="723.5"/><use href="#yt2" x="815.5"/></g>
<g id="r2c4"><g transform="translate(1057.8,497)" clip-path="url(#cp)"><use href="#p24" transform="matrix(0,-1.2953,1,0,0,255.26)"/></g><use href="#fr" x="1057.8" y="723.5"/><use href="#xt4" y="723.5"/><use href="#yt2" x="1057.8"/></g>
<g id="r2c5"><g transform="translate(1300.1,497)" clip-path="url(#cp)"><use href="#p25" transform="matrix(0,-1.2953,1,0,0,255.26)"/></g><use href="#fr" x="1300.1" y="723.5"/><use href="#xt5" y="723.5"/><use href="#yt2" x="1300.1"/></g>
<g id="r2c6"><g transform="translate(1542.4,497)" clip-path="url(#cp)"><use href="#p26" transform="matrix(0,-1.2953,1,0,0,255.26)"/></g><use href="#fr" x="1542.4" y="723.5"/><use href="#xt6" y="723.5"/><use href="#yt2" x="1542.4"/></g>
<g id="r2c7"><g transform="translate(1784.7,497)" clip-path="url(#cp)"><use href="#p27" transform="matrix(0,-1.2953,1,0,0,255.26)"/></g><use href="#fr" x="1784.7" y="723.5"/><use href="#xt7" y="723.5"/><use href="#yt2" x="1784.7"/></g>
</g>

<g id="row3">
<g id="r3c0"><g transform="translate(88.6,740.5)" clip-path="url(#cp)"><use href="#p03" transform="matrix(1,0,0,-1.2921,0,257.02)"/></g><use href="#fr" x="88.6" y="967"/><use href="#xt0" y="967"/><use href="#yt3" x="88.6"/></g>
<g id="r3c1"><g transform="translate(330.9,740.5)" clip-path="url(#cp)"><use href="#p13" transform="matrix(1,0,0,-1.2921,0,257.02)"/></g><use href="#fr" x="330.9" y="967"/><use href="#xt1" y="967"/><use href="#yt3" x="330.9"/></g>
<g id="r3c2"><g transform="translate(573.2,740.5)" clip-path="url(#cp)"><use href="#p23" transform="matrix(1,0,0,-1.2921,0,257.02)"/></g><use href="#fr" x="573.2" y="967"/><use href="#xt2" y="967"/><use href="#yt3" x="573.2"/></g>
<g id="r3c3"><g transform="translate(560,490) scale(.33333)">
<path class="kd" fill="#edd1cb" fill-opacity=".25" stroke="#edd1cb" d="M800 1423L860 1410L900 1350L930 1280L960 1252L990 1232L1030 1190L1060 1160L1075 1152L1100 1170L1130 1250L1160 1320L1190 1380L1230 1415L1270 1423Z"/>
<path class="kd" fill="#ab6390" fill-opacity=".25" stroke="#ab6390" d="M880 1423L920 1410L960 1350L1000 1260L1040 1170L1070 1090L1090 1050L1105 960L1118 885L1125 868L1135 885L1145 980L1155 1150L1165 1300L1180 1385L1200 1415L1230 1423Z"/>
<path class="kd" fill="#2d1e3e" fill-opacity=".25" stroke="#2d1e3e" d="M1100 1423L1120 1390L1140 1250L1160 1050L1175 870L1185 795L1190 785L1200 800L1210 870L1225 1000L1250 1150L1270 1260L1300 1370L1330 1405L1370 1423Z"/>
</g><use href="#fr" x="815.5" y="967"/><use href="#xt3" y="967"/><use href="#yt3" x="815.5"/></g>
<g id="r3c4"><g transform="translate(1057.8,740.5)" clip-path="url(#cp)"><use href="#p34" transform="matrix(0,-1.2921,1,0,0,257.02)"/></g><use href="#fr" x="1057.8" y="967"/><use href="#xt4" y="967"/><use href="#yt3" x="1057.8"/></g>
<g id="r3c5"><g transform="translate(1300.1,740.5)" clip-path="url(#cp)"><use href="#p35" transform="matrix(0,-1.2921,1,0,0,257.02)"/></g><use href="#fr" x="1300.1" y="967"/><use href="#xt5" y="967"/><use href="#yt3" x="1300.1"/></g>
<g id="r3c6"><g transform="translate(1542.4,740.5)" clip-path="url(#cp)"><use href="#p36" transform="matrix(0,-1.2921,1,0,0,257.02)"/></g><use href="#fr" x="1542.4" y="967"/><use href="#xt6" y="967"/><use href="#yt3" x="1542.4"/></g>
<g id="r3c7"><g transform="translate(1784.7,740.5)" clip-path="url(#cp)"><use href="#p37" transform="matrix(0,-1.2921,1,0,0,257.02)"/></g><use href="#fr" x="1784.7" y="967"/><use href="#xt7" y="967"/><use href="#yt3" x="1784.7"/></g>
</g>

<g id="row4">
<g id="r4c0"><g transform="translate(88.6,984)" clip-path="url(#cp)"><use href="#p04" transform="matrix(1,0,0,-1.3308,0,251.88)"/></g><use href="#fr" x="88.6" y="1210.5"/><use href="#xt0" y="1210.5"/><use href="#yt4" x="88.6"/></g>
<g id="r4c1"><g transform="translate(330.9,984)" clip-path="url(#cp)"><use href="#p14" transform="matrix(1,0,0,-1.3308,0,251.88)"/></g><use href="#fr" x="330.9" y="1210.5"/><use href="#xt1" y="1210.5"/><use href="#yt4" x="330.9"/></g>
<g id="r4c2"><g transform="translate(573.2,984)" clip-path="url(#cp)"><use href="#p24" transform="matrix(1,0,0,-1.3308,0,251.88)"/></g><use href="#fr" x="573.2" y="1210.5"/><use href="#xt2" y="1210.5"/><use href="#yt4" x="573.2"/></g>
<g id="r4c3"><g transform="translate(815.5,984)" clip-path="url(#cp)"><use href="#p34" transform="matrix(1,0,0,-1.3308,0,251.88)"/></g><use href="#fr" x="815.5" y="1210.5"/><use href="#xt3" y="1210.5"/><use href="#yt4" x="815.5"/></g>
<g id="r4c4"><g transform="translate(1045,975) scale(.33333)">
<path class="kd" fill="#edd1cb" fill-opacity=".25" stroke="#edd1cb" d="M150 705L200 692L240 600L260 420L280 260L303 195L325 250L350 380L380 480L410 580L450 650L500 675L540 690L600 702L640 705Z"/>
<path class="kd" fill="#ab6390" fill-opacity=".25" stroke="#ab6390" d="M130 705L170 682L210 600L240 420L265 200L285 90L300 60L315 90L345 280L370 420L400 530L430 620L470 680L520 700L570 705Z"/>
<path class="kd" fill="#2d1e3e" fill-opacity=".25" stroke="#2d1e3e" d="M70 705L110 692L150 640L180 550L210 380L235 280L258 245L280 268L305 262L325 300L350 420L380 560L410 650L440 697L470 705Z"/>
</g><use href="#fr" x="1057.8" y="1210.5"/><use href="#xt4" y="1210.5"/><use href="#yt4" x="1057.8"/></g>
<g id="r4c5"><g transform="translate(1300.1,984)" clip-path="url(#cp)"><use href="#p45" transform="matrix(0,-1.3308,1,0,0,251.88)"/></g><use href="#fr" x="1300.1" y="1210.5"/><use href="#xt5" y="1210.5"/><use href="#yt4" x="1300.1"/></g>
<g id="r4c6"><g transform="translate(1542.4,984)" clip-path="url(#cp)"><use href="#p46" transform="matrix(0,-1.3308,1,0,0,251.88)"/></g><use href="#fr" x="1542.4" y="1210.5"/><use href="#xt6" y="1210.5"/><use href="#yt4" x="1542.4"/></g>
<g id="r4c7"><g transform="translate(1784.7,984)" clip-path="url(#cp)"><use href="#p47" transform="matrix(0,-1.3308,1,0,0,251.88)"/></g><use href="#fr" x="1784.7" y="1210.5"/><use href="#xt7" y="1210.5"/><use href="#yt4" x="1784.7"/></g>
</g>

<g id="row5">
<g id="r5c0"><g transform="translate(88.6,1227.5)" clip-path="url(#cp)"><use href="#p05" transform="matrix(1,0,0,-1.3441,0,255.04)"/></g><use href="#fr" x="88.6" y="1454"/><use href="#xt0" y="1454"/><use href="#yt5" x="88.6"/></g>
<g id="r5c1"><g transform="translate(330.9,1227.5)" clip-path="url(#cp)"><use href="#p15" transform="matrix(1,0,0,-1.3441,0,255.04)"/></g><use href="#fr" x="330.9" y="1454"/><use href="#xt1" y="1454"/><use href="#yt5" x="330.9"/></g>
<g id="r5c2"><g transform="translate(573.2,1227.5)" clip-path="url(#cp)"><use href="#p25" transform="matrix(1,0,0,-1.3441,0,255.04)"/></g><use href="#fr" x="573.2" y="1454"/><use href="#xt2" y="1454"/><use href="#yt5" x="573.2"/></g>
<g id="r5c3"><g transform="translate(815.5,1227.5)" clip-path="url(#cp)"><use href="#p35" transform="matrix(1,0,0,-1.3441,0,255.04)"/></g><use href="#fr" x="815.5" y="1454"/><use href="#xt3" y="1454"/><use href="#yt5" x="815.5"/></g>
<g id="r5c4"><g transform="translate(1057.8,1227.5)" clip-path="url(#cp)"><use href="#p45" transform="matrix(1,0,0,-1.3441,0,255.04)"/></g><use href="#fr" x="1057.8" y="1454"/><use href="#xt4" y="1454"/><use href="#yt5" x="1057.8"/></g>
<g id="r5c5"><g transform="translate(1045,975) scale(.33333)">
<path class="kd" fill="#edd1cb" fill-opacity=".25" stroke="#edd1cb" d="M860 1423L900 1400L930 1300L950 1100L965 900L978 790L995 850L1015 1000L1035 1150L1060 1290L1100 1370L1150 1385L1180 1400L1250 1415L1300 1423Z"/>
<path class="kd" fill="#ab6390" fill-opacity=".25" stroke="#ab6390" d="M820 1423L860 1390L890 1300L920 1170L950 1000L970 860L980 830L995 860L1015 980L1040 1080L1060 1150L1090 1280L1120 1360L1150 1395L1200 1410L1260 1418L1320 1423Z"/>
<path class="kd" fill="#2d1e3e" fill-opacity=".25" stroke="#2d1e3e" d="M800 1423L830 1410L860 1330L890 1210L920 1100L950 1068L985 1080L1010 1050L1028 1028L1060 1080L1090 1200L1110 1330L1140 1400L1170 1423Z"/>
</g><use href="#fr" x="1300.1" y="1454"/><use href="#xt5" y="1454"/><use href="#yt5" x="1300.1"/></g>
<g id="r5c6"><g transform="translate(1542.4,1227.5)" clip-path="url(#cp)"><use href="#p56" transform="matrix(0,-1.3441,1,0,0,255.04)"/></g><use href="#fr" x="1542.4" y="1454"/><use href="#xt6" y="1454"/><use href="#yt5" x="1542.4"/></g>
<g id="r5c7"><g transform="translate(1784.7,1227.5)" clip-path="url(#cp)"><use href="#p57" transform="matrix(0,-1.3441,1,0,0,255.04)"/></g><use href="#fr" x="1784.7" y="1454"/><use href="#xt7" y="1454"/><use href="#yt5" x="1784.7"/></g>
</g>

<g id="row6">
<g id="r6c0"><g transform="translate(88.6,1471)" clip-path="url(#cp)"><use href="#p06" transform="matrix(1,0,0,-1.3336,0,249.65)"/></g><use href="#fr" x="88.6" y="1697.5"/><use href="#xt0" y="1697.5"/><use href="#yt6" x="88.6"/></g>
<g id="r6c1"><g transform="translate(330.9,1471)" clip-path="url(#cp)"><use href="#p16" transform="matrix(1,0,0,-1.3336,0,249.65)"/></g><use href="#fr" x="330.9" y="1697.5"/><use href="#xt1" y="1697.5"/><use href="#yt6" x="330.9"/></g>
<g id="r6c2"><g transform="translate(573.2,1471)" clip-path="url(#cp)"><use href="#p26" transform="matrix(1,0,0,-1.3336,0,249.65)"/></g><use href="#fr" x="573.2" y="1697.5"/><use href="#xt2" y="1697.5"/><use href="#yt6" x="573.2"/></g>
<g id="r6c3"><g transform="translate(815.5,1471)" clip-path="url(#cp)"><use href="#p36" transform="matrix(1,0,0,-1.3336,0,249.65)"/></g><use href="#fr" x="815.5" y="1697.5"/><use href="#xt3" y="1697.5"/><use href="#yt6" x="815.5"/></g>
<g id="r6c4"><g transform="translate(1057.8,1471)" clip-path="url(#cp)"><use href="#p46" transform="matrix(1,0,0,-1.3336,0,249.65)"/></g><use href="#fr" x="1057.8" y="1697.5"/><use href="#xt4" y="1697.5"/><use href="#yt6" x="1057.8"/></g>
<g id="r6c5"><g transform="translate(1300.1,1471)" clip-path="url(#cp)"><use href="#p56" transform="matrix(1,0,0,-1.3336,0,249.65)"/></g><use href="#fr" x="1300.1" y="1697.5"/><use href="#xt5" y="1697.5"/><use href="#yt6" x="1300.1"/></g>
<g id="r6c6"><g transform="translate(1500,1450) scale(.33333)">
<path class="kd" fill="#edd1cb" fill-opacity=".25" stroke="#edd1cb" d="M220 740L290 716L340 640L380 570L420 480L450 410L475 360L497 342L520 355L545 375L575 410L600 500L620 600L650 690L690 732L730 740Z"/>
<path class="kd" fill="#ab6390" fill-opacity=".25" stroke="#ab6390" d="M180 740L240 722L280 650L320 400L350 180L365 110L378 95L395 150L420 250L440 330L460 480L480 560L510 590L540 585L565 600L590 680L620 722L660 737L690 740Z"/>
<path class="kd" fill="#2d1e3e" fill-opacity=".25" stroke="#2d1e3e" d="M170 740L220 722L260 650L300 450L330 250L350 120L360 95L380 100L410 220L435 300L450 420L470 600L490 700L510 735L540 740Z"/>
</g><use href="#fr" x="1542.4" y="1697.5"/><use href="#xt6" y="1697.5"/><use href="#yt6" x="1542.4"/></g>
<g id="r6c7"><g transform="translate(1784.7,1471)" clip-path="url(#cp)"><use href="#p67" transform="matrix(0,-1.3336,1,0,0,249.65)"/></g><use href="#fr" x="1784.7" y="1697.5"/><use href="#xt7" y="1697.5"/><use href="#yt6" x="1784.7"/></g>
</g>

<g id="row7">
<g id="r7c0"><g transform="translate(88.6,1714.5)" clip-path="url(#cp)"><use href="#p07" transform="matrix(1,0,0,-1.3017,0,250.1)"/></g><use href="#fr" x="88.6" y="1941"/><use href="#xt0" y="1941"/><use href="#yt7" x="88.6"/></g>
<g id="r7c1"><g transform="translate(330.9,1714.5)" clip-path="url(#cp)"><use href="#p17" transform="matrix(1,0,0,-1.3017,0,250.1)"/></g><use href="#fr" x="330.9" y="1941"/><use href="#xt1" y="1941"/><use href="#yt7" x="330.9"/></g>
<g id="r7c2"><g transform="translate(573.2,1714.5)" clip-path="url(#cp)"><use href="#p27" transform="matrix(1,0,0,-1.3017,0,250.1)"/></g><use href="#fr" x="573.2" y="1941"/><use href="#xt2" y="1941"/><use href="#yt7" x="573.2"/></g>
<g id="r7c3"><g transform="translate(815.5,1714.5)" clip-path="url(#cp)"><use href="#p37" transform="matrix(1,0,0,-1.3017,0,250.1)"/></g><use href="#fr" x="815.5" y="1941"/><use href="#xt3" y="1941"/><use href="#yt7" x="815.5"/></g>
<g id="r7c4"><g transform="translate(1057.8,1714.5)" clip-path="url(#cp)"><use href="#p47" transform="matrix(1,0,0,-1.3017,0,250.1)"/></g><use href="#fr" x="1057.8" y="1941"/><use href="#xt4" y="1941"/><use href="#yt7" x="1057.8"/></g>
<g id="r7c5"><g transform="translate(1300.1,1714.5)" clip-path="url(#cp)"><use href="#p57" transform="matrix(1,0,0,-1.3017,0,250.1)"/></g><use href="#fr" x="1300.1" y="1941"/><use href="#xt5" y="1941"/><use href="#yt7" x="1300.1"/></g>
<g id="r7c6"><g transform="translate(1542.4,1714.5)" clip-path="url(#cp)"><use href="#p67" transform="matrix(1,0,0,-1.3017,0,250.1)"/></g><use href="#fr" x="1542.4" y="1941"/><use href="#xt6" y="1941"/><use href="#yt7" x="1542.4"/></g>
<g id="r7c7"><g transform="translate(1500,1450) scale(.33333)">
<path class="kd" fill="#edd1cb" fill-opacity=".25" stroke="#edd1cb" d="M900 1472L940 1440L960 1250L975 950L990 800L1000 790L1015 850L1030 1000L1050 1180L1080 1320L1110 1380L1140 1390L1170 1400L1210 1430L1270 1445L1320 1460L1460 1472Z"/>
<path class="kd" fill="#ab6390" fill-opacity=".25" stroke="#ab6390" d="M890 1472L920 1430L945 1280L965 1050L985 900L1005 830L1025 900L1040 1050L1060 1120L1080 1180L1110 1300L1140 1390L1180 1430L1230 1450L1300 1466L1400 1472Z"/>
<path class="kd" fill="#2d1e3e" fill-opacity=".25" stroke="#2d1e3e" d="M880 1472L900 1440L920 1300L940 1160L960 1080L980 1038L1000 1060L1020 1100L1050 1085L1080 1150L1110 1280L1130 1370L1160 1440L1200 1466L1260 1472Z"/>
</g><use href="#fr" x="1784.7" y="1941"/><use href="#xt7" y="1941"/><use href="#yt7" x="1784.7"/></g>
</g>

<g id="labels">
<g text-anchor="end">
<text x="78.8" y="50">1.1</text><text x="78.8" y="92.8">1.0</text><text x="78.8" y="135.6">0.9</text><text x="78.8" y="178.4">0.8</text><text x="78.8" y="221.2">0.7</text>
<text x="78.8" y="263.3">0.35</text><text x="78.8" y="305.3">0.30</text><text x="78.8" y="347.3">0.25</text><text x="78.8" y="389.3">0.20</text><text x="78.8" y="431.3">0.15</text><text x="78.8" y="473.3">0.10</text>
<text x="78.8" y="551.3">200</text><text x="78.8" y="607">150</text><text x="78.8" y="662.7">100</text><text x="78.8" y="718.4">50</text>
<text x="78.8" y="773.3">7</text><text x="78.8" y="822.4">6</text><text x="78.8" y="871.5">5</text><text x="78.8" y="920.6">4</text><text x="78.8" y="969.7">3</text>
<text x="78.8" y="1021.7">0.50</text><text x="78.8" y="1073.4">0.45</text><text x="78.8" y="1125.1">0.40</text><text x="78.8" y="1176.8">0.35</text>
<text x="78.8" y="1250.3">0.250</text><text x="78.8" y="1279.4">0.225</text><text x="78.8" y="1308.5">0.200</text><text x="78.8" y="1337.6">0.175</text><text x="78.8" y="1366.7">0.150</text><text x="78.8" y="1395.8">0.125</text><text x="78.8" y="1424.9">0.100</text><text x="78.8" y="1454">0.075</text>
<text x="78.8" y="1477">0.96</text><text x="78.8" y="1517.7">0.94</text><text x="78.8" y="1558.4">0.92</text><text x="78.8" y="1599.1">0.90</text><text x="78.8" y="1639.8">0.88</text><text x="78.8" y="1680.5">0.86</text>
<text x="78.8" y="1751.7">0.06</text><text x="78.8" y="1786">0.05</text><text x="78.8" y="1820.3">0.04</text><text x="78.8" y="1854.6">0.03</text><text x="78.8" y="1888.9">0.02</text><text x="78.8" y="1923.2">0.01</text>
</g>
<g text-anchor="middle">
<text transform="translate(47,123.25) rotate(-90)">length</text>
<text transform="translate(39,366.75) rotate(-90)">width</text>
<text transform="translate(43.4,610.25) rotate(-90)">contrast</text>
<text transform="translate(60,853.75) rotate(-90)">dissimilarity</text>
<text transform="translate(38,1097.25) rotate(-90)">homogenity</text>
<text transform="translate(29.3,1340.75) rotate(-90)">energy</text>
<text transform="translate(39,1584.25) rotate(-90)">correlation</text>
<text transform="translate(39,1827.75) rotate(-90)">ASM</text>
</g>
</g>
</svg>
